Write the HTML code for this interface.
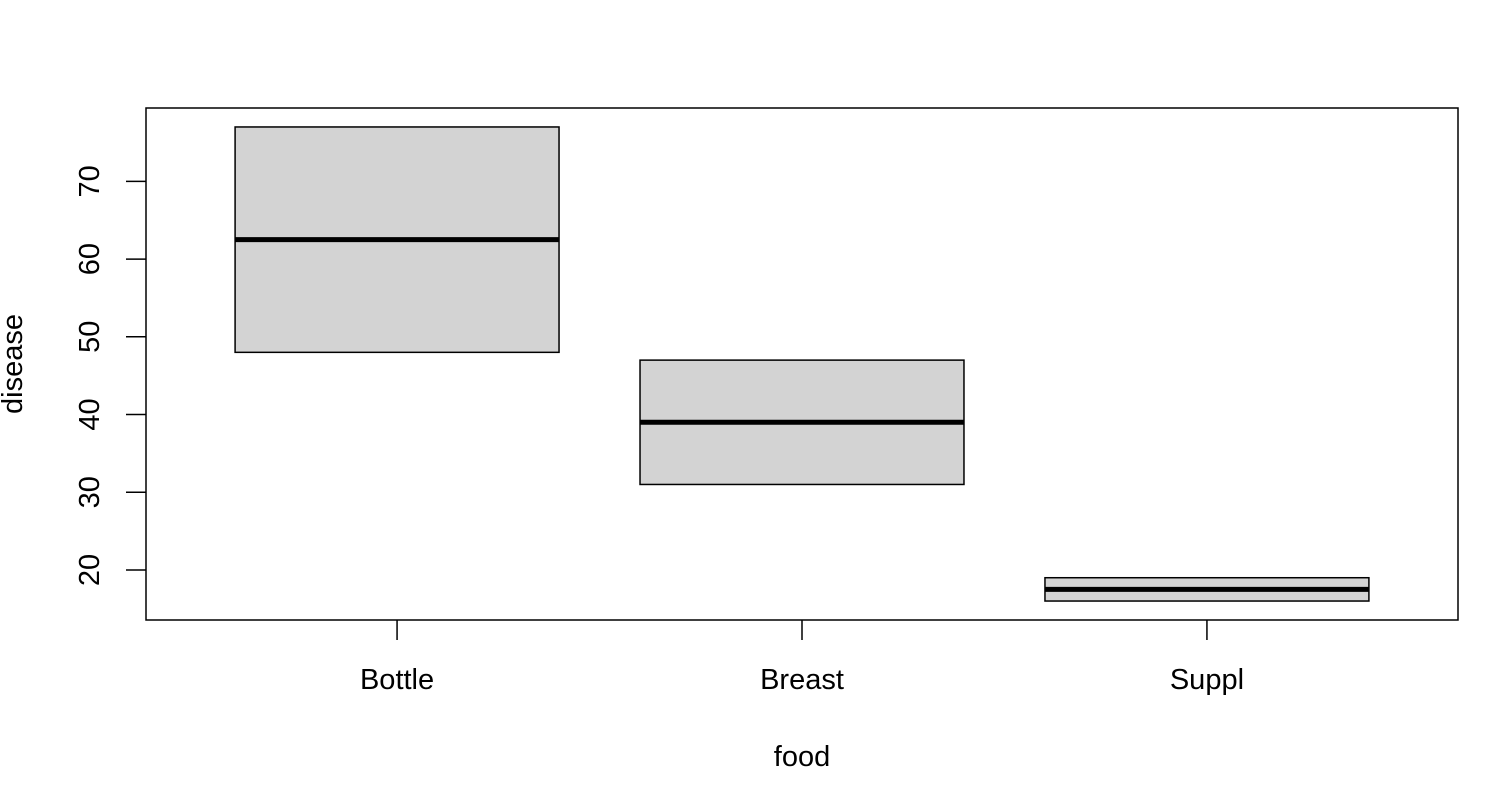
<!DOCTYPE html>
<html><head><meta charset="utf-8"><style>
body{margin:0;background:#fff}
svg text{font-family:"Liberation Sans",sans-serif;font-size:29px;fill:#000}
</style></head><body>
<svg id="chart" width="1512" height="798"></svg>
<script>
const categories=["Bottle","Breast","Suppl"];
const q1=[48,31,16];
const medians=[62.5,39,17.5];
const q3=[77,47,19];
const yTicks=[20,30,40,50,60,70];
const NS="http://www.w3.org/2000/svg";
const svg=document.getElementById('chart');
const L=146,R=1458,T=108,B=620;
const yMin=13.56,yMax=79.44;
const xMin=0.5-0.12,xMax=3.5+0.12;
const sx=v=>L+(v-xMin)/(xMax-xMin)*(R-L);
const sy=v=>B-(v-yMin)/(yMax-yMin)*(B-T);
function mk(tag,attrs,parent){const e=document.createElementNS(NS,tag);for(const k in attrs)e.setAttribute(k,attrs[k]);(parent||svg).appendChild(e);return e;}
categories.forEach((c,i)=>{
  const cx=sx(i+1),hw=0.4*(sx(2)-sx(1));
  const g=mk('g',{});
  
  
  mk('rect',{x:cx-hw,y:sy(q3[i]),width:2*hw,height:sy(q1[i])-sy(q3[i]),fill:'#d3d3d3',stroke:'#000','stroke-width':1.5},g);
  const m=mk('line',{x1:cx-hw,x2:cx+hw,y1:sy(medians[i]),y2:sy(medians[i]),stroke:'#000','stroke-width':5},g);
  
  
  mk('line',{x1:cx,x2:cx,y1:B,y2:B+20,stroke:'#000','stroke-width':1.5});
  const t=mk('text',{x:cx,y:689,'text-anchor':'middle'});
  t.textContent=c;
  
  
});
yTicks.forEach(v=>{
  const y=sy(v);
  mk('line',{x1:L-20,x2:L,y1:y,y2:y,stroke:'#000','stroke-width':1.5});
  const t=mk('text',{x:0,y:0,'text-anchor':'middle',transform:`translate(99,${y}) rotate(-90)`});
  t.textContent=v;
  
  
});
const fr=mk('rect',{x:L,y:T,width:R-L,height:B-T,fill:'none',stroke:'#000','stroke-width':1.5});


const xt=mk('text',{x:802,y:766,'text-anchor':'middle'});xt.textContent='food';


const yt=mk('text',{x:0,y:0,'text-anchor':'middle',transform:'translate(22,364) rotate(-90)'});yt.textContent='disease';


</script>
</body></html>
